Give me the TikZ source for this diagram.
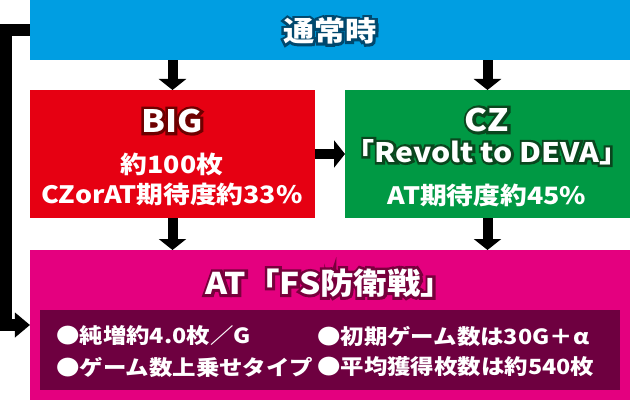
\documentclass[tikz,border=0pt]{standalone}
\usepackage{fontspec}
\IfFontExistsTF{Noto Sans CJK JP Black}
  {\setmainfont{Noto Sans CJK JP}[BoldFont={Noto Sans CJK JP Black}, FakeStretch=1.12]}
  {\setmainfont{Noto Sans CJK JP}[FakeStretch=1.12]}
\usetikzlibrary{positioning,arrows.meta}

\definecolor{normalblue}{RGB}{0,158,226}
\definecolor{normalline}{RGB}{0,72,110}
\definecolor{bigred}{RGB}{230,0,18}
\definecolor{bigline}{RGB}{110,0,0}
\definecolor{czgreen}{RGB}{0,153,68}
\definecolor{czline}{RGB}{10,70,30}
\definecolor{atpink}{RGB}{228,0,127}
\definecolor{atline}{RGB}{120,0,60}
\definecolor{atdark}{RGB}{110,0,64}

% white text on a dark rim
\newcommand{\rimtext}[2]{\leavevmode\rlap{\textcolor{#1}{\addfontfeature{FakeBold=18}#2}}#2}

\begin{document}
\begin{tikzpicture}[
    x=1bp, y=1bp,
    box/.style={rectangle, inner sep=0pt, outer sep=0pt},
    title/.style={text=white, inner sep=0pt, font=\bfseries\fontsize{28}{30}\selectfont},
    info/.style={text=white, inner sep=0pt, font=\bfseries\fontsize{24}{26}\selectfont},
    bullet/.style={text=white, inner sep=0pt, anchor=west, font=\bfseries\fontsize{21}{23}\selectfont},
    arrow/.style={-{Triangle[width=27bp,length=11bp]}, line width=10bp},
    sidearrow/.style={-{Triangle[width=24bp,length=15bp]}, line width=12bp, line join=miter}
]
\useasboundingbox (0,0) rectangle (630,400);

% Boxes
\node[box, fill=normalblue, minimum width=600bp, minimum height=60bp] (normal) at (330,370) {};
\node[box, fill=bigred, minimum width=285bp, minimum height=128bp] (big) at (172.5,246) {};
\node[box, fill=czgreen, minimum width=285bp, minimum height=128bp] (cz) at (487.5,246) {};
\node[box, fill=atpink, minimum width=600bp, minimum height=150bp] (at) at (330,75) {};
\node[box, fill=atdark, minimum width=580bp, minimum height=80bp] (spec) at (330,50) {};

% Texts
\node[title] (normalT) at (330,369) {\rimtext{normalline}{通常時}};
\node[title, font=\bfseries\fontsize{31}{32}\selectfont] (bigT) at (172,279) {\rimtext{bigline}{BIG}};
\node[info] (bigA) at (172,236) {約100枚};
\node[info] (bigB) at (172,206) {CZorAT期待度約33\%};
\node[title, font=\bfseries\fontsize{31}{32}\selectfont] (czT) at (487,280) {\rimtext{czline}{CZ}};
\node[title, font=\bfseries\fontsize{27}{30}\selectfont] (czN) at (487,248) {\rimtext{czline}{「Revolt to DEVA」}};
\node[info] (czA) at (487,205) {AT期待度約45\%};
\node[title, font=\bfseries\fontsize{30}{32}\selectfont] (atT) at (330,117) {\rimtext{atline}{AT「FS防衛戦」}};
\node[bullet] (specA) at (56,64) {●純増約4.0枚／G};
\node[bullet] (specB) at (317,64) {●初期ゲーム数は30G＋α};
\node[bullet] (specC) at (56,33) {●ゲーム数上乗せタイプ};
\node[bullet] (specD) at (317,33) {●平均獲得枚数は約540枚};

% Arrows
\draw[arrow] (normal.south -| big.north) -- (big.north);
\draw[arrow] (normal.south -| cz.north) -- (cz.north);
\draw[arrow] (big.east) -- (cz.west);
\draw[arrow] (big.south) -- (big.south |- at.north);
\draw[arrow] (cz.south) -- (cz.south |- at.north);

% Back to AT
\coordinate (bend) at (6,370);
\draw[sidearrow] (normal.west) -- (bend) |- (at.west);

\end{tikzpicture}
\end{document}
